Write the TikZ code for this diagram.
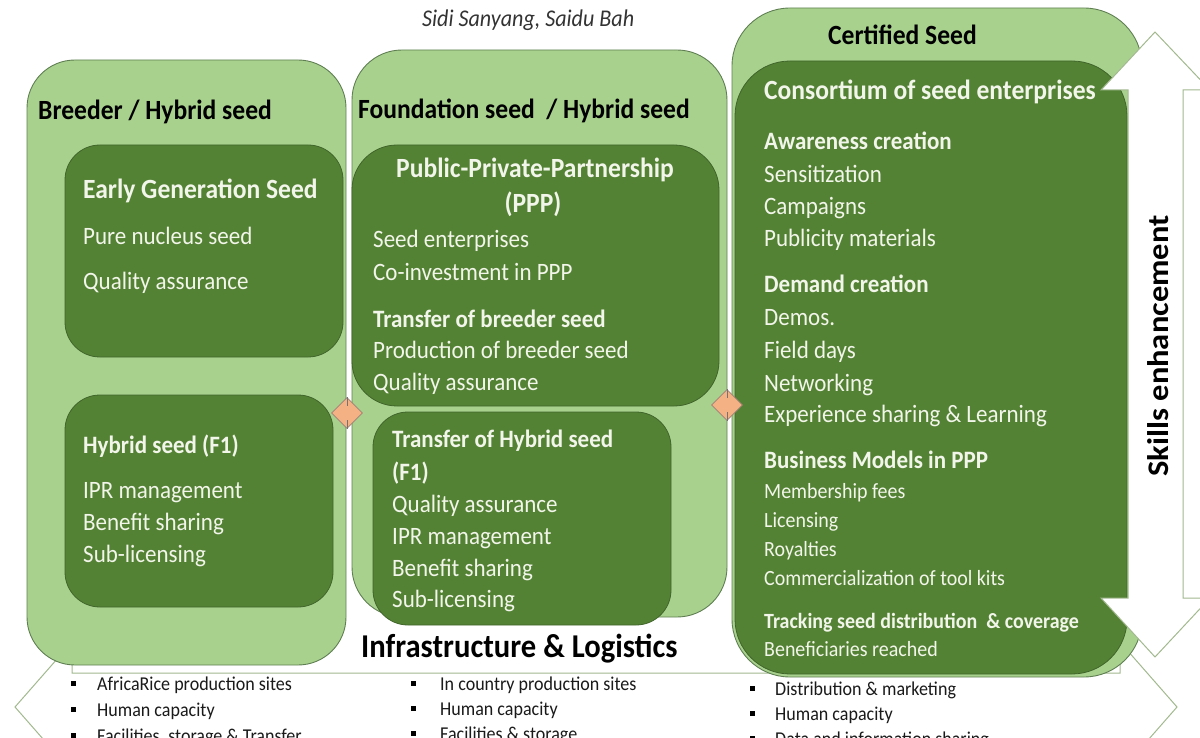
\documentclass[tikz,border=0pt]{standalone}
\usepackage{fontspec}
\setmainfont{Carlito}[FakeStretch=0.92]
\newfontfamily\skillsfont{Carlito}
\usetikzlibrary{shapes.geometric}
\definecolor{leaf}{HTML}{A9D18E}
\definecolor{forest}{HTML}{548235}
\definecolor{leafline}{HTML}{5F7F52}
\definecolor{forestline}{HTML}{3F6529}
\definecolor{cream}{HTML}{F2F5E9}
\definecolor{peach}{HTML}{F4B183}
\definecolor{peachline}{HTML}{9C7F78}
\definecolor{arrowline}{HTML}{A2B98F}
\definecolor{ink}{HTML}{1A1A1A}

\begin{document}
\begin{tikzpicture}[x=1pt,y=-1pt,
  outerbox/.style={fill=leaf, draw=leafline, line width=0.9pt, rounded corners=#1},
  innerbox/.style={fill=forest, draw=forestline, line width=0.8pt, rounded corners=#1},
  bigarrow/.style={fill=white, draw=arrowline, line width=1pt, line join=miter},
  colhead/.style={anchor=base west, inner sep=0pt, text=black, font=\fontsize{27.8}{30}\selectfont\bfseries},
  boxhead/.style={anchor=base west, inner sep=0pt, text=cream, font=\fontsize{27.8}{30}\selectfont\bfseries},
  subhead/.style={anchor=base west, inner sep=0pt, text=cream, font=\fontsize{25}{28}\selectfont\bfseries},
  item/.style={anchor=base west, inner sep=0pt, text=cream, font=\fontsize{25}{28}\selectfont},
  smallitem/.style={anchor=base west, inner sep=0pt, text=cream, font=\fontsize{21.7}{24}\selectfont},
  smallhead/.style={anchor=base west, inner sep=0pt, text=cream, font=\fontsize{21.7}{24}\selectfont\bfseries},
  listitem/.style={anchor=base west, inner sep=0pt, text=ink, font=\fontsize{19.6}{22}\selectfont},
  sq/.style={fill=black, inner sep=0pt, minimum size=5pt},
  link/.style={diamond, fill=peach, draw=peachline, line width=0.7pt, inner sep=0pt,
    minimum width=31pt, minimum height=31pt},
  linkmark/.style={draw=black!55, line width=0.7pt},
]
\useasboundingbox (0,0) rectangle (1200,738);

% horizontal double arrow: infrastructure & logistics
\path[bigarrow] (15,707) -- (72,642) -- (72,673) -- (1120,673) -- (1120,642) -- (1177,707)
  -- (1120,772) -- (1120,741) -- (72,741) -- (72,772) -- cycle;

% three seed-class columns
\path[outerbox=48pt] (27,60) rectangle (346,665);
\path[outerbox=50pt] (352,50) rectangle (727,617);
\path[outerbox=58pt] (732,8) rectangle (1142,677);

% inner panels
\path[innerbox=35pt] (65,145) rectangle (343,357);
\path[innerbox=35pt] (65,395) rectangle (333,607);
\path[innerbox=45pt] (352,145) rectangle (719,406);
\path[innerbox=35pt] (373,412) rectangle (671,625);
\path[innerbox=55pt] (735,61) rectangle (1127,674);

% links between columns
\node[link] (d1) at (347,413) {};
\node[link] (d2) at (727,405) {};
\foreach \d in {d1,d2} {
  \draw[linkmark] (\d.north) -- ++(0,9);
  \draw[linkmark] (\d.south) -- ++(0,-9);
}

% vertical double arrow: skills enhancement
\path[bigarrow] (1155,32) -- (1210,90) -- (1183,90) -- (1183,598) -- (1210,598) -- (1155,657)
  -- (1101,598) -- (1128,598) -- (1128,90) -- (1101,90) -- cycle;
\node[rotate=90, inner sep=0pt, text=black,
  font=\skillsfont\fontsize{32.5}{34}\selectfont\bfseries] (skills) at (1158,346)
  {\scalebox{1}[0.92]{Skills enhancement}};

% authors
\node[anchor=base west, inner sep=0pt, text=black!80,
  font=\fontsize{24}{26}\selectfont\itshape] (authors) at (422,27) {Sidi Sanyang, Saidu Bah};

% column 1
\node[colhead] (breeder) at (38,120) {Breeder / Hybrid seed};
\node[boxhead] (egs) at (83,199) {Early Generation Seed};
\foreach \y/\t [count=\i] in {245/Pure nucleus seed, 290/Quality assurance}
  \node[item] (egs\i) at (83,\y) {\t};
\node[subhead] (hyb) at (83,453) {Hybrid seed (F1)};
\foreach \y/\t [count=\i] in {498/IPR management, 530/Benefit sharing, 562/Sub-licensing}
  \node[item] (hyb\i) at (83,\y) {\t};

% column 2
\node[colhead] (found) at (358,119) {Foundation seed\ \ / Hybrid seed};
\node[boxhead, anchor=base] (ppp) at (535,178) {Public-Private-Partnership};
\node[boxhead, anchor=base] (pppb) at (533,213) {(PPP)};
\foreach \y/\t [count=\i] in {248/Seed enterprises, 280/Co-investment in PPP}
  \node[item] (ppp\i) at (373,\y) {\t};
\node[subhead] (tbs) at (373,327) {Transfer of breeder seed};
\foreach \y/\t [count=\i] in {358/Production of breeder seed, 390/Quality assurance}
  \node[item] (tbs\i) at (373,\y) {\t};
\node[subhead] (ths) at (392,447) {Transfer of Hybrid seed};
\node[subhead] (thsb) at (392,480) {(F1)};
\foreach \y/\t [count=\i] in {512/Quality assurance, 544/IPR management, 576/Benefit sharing, 607/Sub-licensing}
  \node[item] (ths\i) at (392,\y) {\t};

% column 3
\node[colhead] (cert) at (828,45) {Certified Seed};
\node[boxhead] (cons) at (764,100) {Consortium of seed enterprises};
\node[subhead] (aw) at (764,150) {Awareness creation};
\foreach \y/\t [count=\i] in {183/Sensitization, 215/Campaigns, 247/Publicity materials}
  \node[item] (aw\i) at (764,\y) {\t};
\node[subhead] (dm) at (764,293) {Demand creation};
\foreach \y/\t [count=\i] in {325/Demos., 358/Field days, 391/Networking, 422/Experience sharing \& Learning}
  \node[item] (dm\i) at (764,\y) {\t};
\node[subhead] (bm) at (764,468) {Business Models in PPP};
\foreach \y/\t [count=\i] in {498/Membership fees, 527/Licensing, 556/Royalties, 585/Commercialization of tool kits}
  \node[smallitem] (bm\i) at (764,\y) {\t};
\node[smallhead] (trk) at (764,628) {Tracking seed distribution\ \ \& coverage};
\node[smallitem] (trk1) at (764,656) {Beneficiaries reached};

% infrastructure & logistics
\node[anchor=base west, inner sep=0pt, text=black,
  font=\fontsize{33.3}{36}\selectfont\bfseries] (infra) at (361,657) {Infrastructure \& Logistics};
\foreach \y/\t [count=\i] in {690/AfricaRice production sites, 716/Human capacity, 742/{Facilities, storage \& Transfer}} {
  \node[sq] (ba\i) at (73,\y-7) {};
  \node[listitem] (la\i) at (97,\y) {\t};
}
\foreach \y/\t [count=\i] in {690/In country production sites, 715/Human capacity, 740/Facilities \& storage} {
  \node[sq] (bb\i) at (413,\y-7) {};
  \node[listitem] (lb\i) at (440,\y) {\t};
}
\foreach \y/\t [count=\i] in {695/Distribution \& marketing, 720/Human capacity, 745/Data and information sharing} {
  \node[sq] (bc\i) at (752,\y-7) {};
  \node[listitem] (lc\i) at (775,\y) {\t};
}
\end{tikzpicture}
\end{document}
